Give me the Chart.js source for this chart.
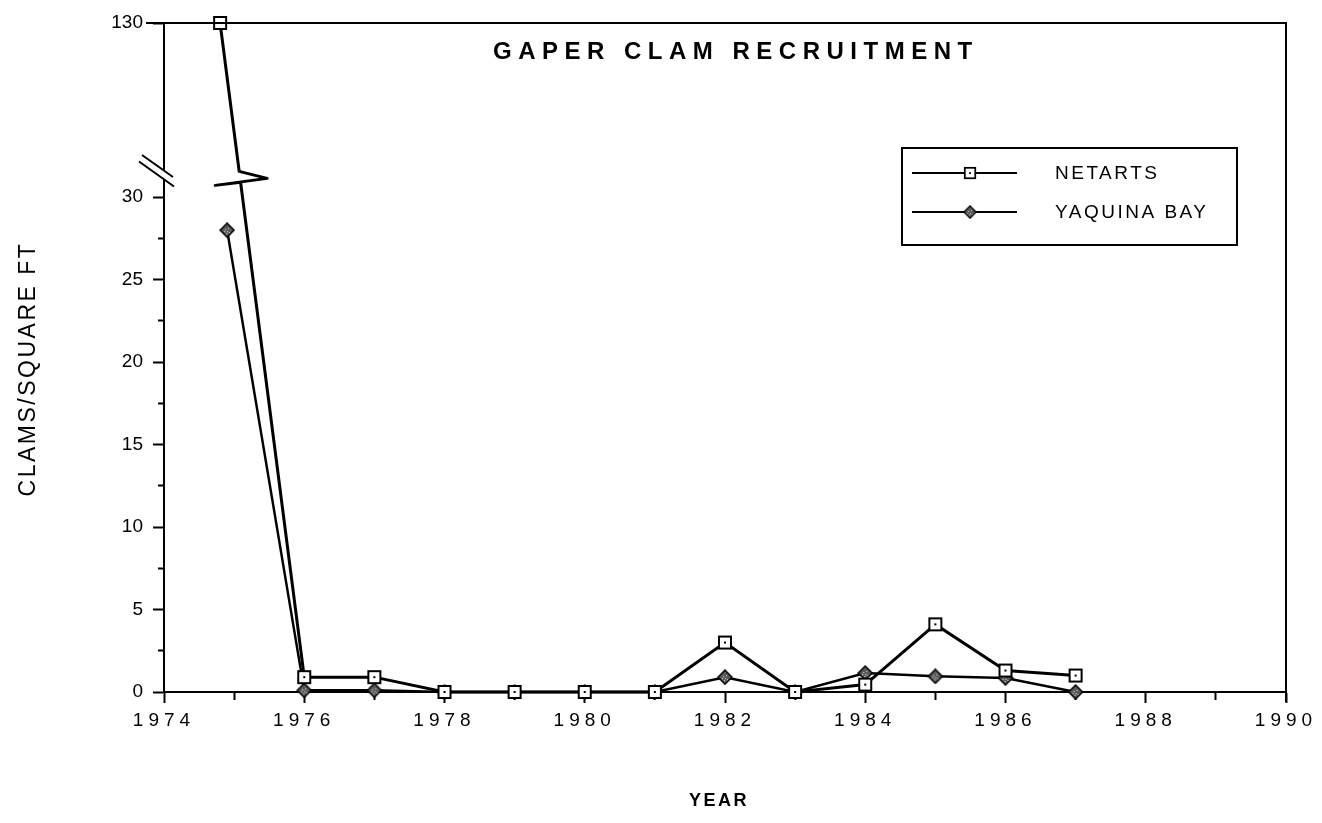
<!DOCTYPE html>
<html>
<head>
<meta charset="utf-8">
<title>Gaper Clam Recruitment</title>
<script src="https://cdn.jsdelivr.net/npm/chart.js@4.4.1/dist/chart.umd.min.js"></script>
<style>
  html, body { margin: 0; padding: 0; background: #fff; }
  #wrap { width: 1322px; height: 823px; }
</style>
</head>
<body>
<div id="wrap"><canvas id="chart" width="1322" height="823"></canvas></div>
<script>
// data
const netartsYears  = [1974.8, 1976, 1977, 1978, 1979, 1980, 1981, 1982, 1983, 1984, 1985, 1986, 1987];
const netartsValues = [130, 0.9, 0.9, 0, 0, 0, 0, 3.0, 0, 0.45, 4.1, 1.3, 1.0];
const yaquinaYears  = [1974.9, 1976, 1977, 1978, 1979, 1980, 1981, 1982, 1983, 1984, 1985, 1986, 1987];
const yaquinaValues = [28, 0.1, 0.1, 0, 0, 0, 0, 0.9, 0, 1.15, 0.95, 0.85, 0];

const xTickYears  = [1974, 1975, 1976, 1977, 1978, 1979, 1980, 1981, 1982, 1983, 1984, 1985, 1986, 1987, 1988, 1989, 1990];
const xTickLabels = ['1974', '', '1976', '', '1978', '', '1980', '', '1982', '', '1984', '', '1986', '', '1988', '', '1990'];
const yTickValues = [0, 2.5, 5, 7.5, 10, 12.5, 15, 17.5, 20, 22.5, 25, 27.5, 30, 130];
const yTickLabels = ['0', '', '5', '', '10', '', '15', '', '20', '', '25', '', '30', '130'];

// broken y axis: everything above BREAK_AT is squeezed so 130 sits at the top
const BREAK_AT = 31.5;
const TOP_LINEAR = 40.56;
const TOP_VALUE = 130;

class BrokenLinearScale extends Chart.LinearScale {
    getPixelForValue(value) {
        let v = value;
        if (v > BREAK_AT) {
            v = BREAK_AT + (v - BREAK_AT) * (TOP_LINEAR - BREAK_AT) / (TOP_VALUE - BREAK_AT);
        }
        return super.getPixelForValue(v);
    }
}
BrokenLinearScale.id = 'brokenLinear';
BrokenLinearScale.defaults = Chart.LinearScale.defaults;
Chart.register(BrokenLinearScale);

const FONT = '"Liberation Sans", Arial, sans-serif';

// marker images
function makeSquare(s) {
    const c = document.createElement('canvas');
    c.width = s; c.height = s;
    const g = c.getContext('2d');
    const m = 2;
    g.fillStyle = '#fff';
    g.fillRect(m, m, s - 2 * m, s - 2 * m);
    g.strokeStyle = '#000';
    g.lineWidth = 2;
    g.strokeRect(m, m, s - 2 * m, s - 2 * m);
    g.fillStyle = '#000';
    g.fillRect(s / 2 - 1, s / 2 - 1, 2, 2);
    return c;
}

function makeDiamond(s) {
    const c = document.createElement('canvas');
    c.width = s; c.height = s;
    const g = c.getContext('2d');
    const h = s / 2;
    g.beginPath();
    g.moveTo(h, 1); g.lineTo(s - 1, h); g.lineTo(h, s - 1); g.lineTo(1, h);
    g.closePath();
    g.fillStyle = '#5a5a5a';
    g.fill();
    g.strokeStyle = '#000';
    g.lineWidth = 1.5;
    g.stroke();
    // speckle so it reads like the hatched print marker
    g.fillStyle = '#ddd';
    [[h - 2, h - 1], [h + 1, h - 2], [h, h + 1], [h + 2, h + 2], [h - 3, h + 1], [h - 1, h + 3]].forEach(p => g.fillRect(p[0], p[1], 1, 1));
    return c;
}

const squareImg = makeSquare(16);
const diamondImg = makeDiamond(16);

const decor = {
    id: 'decor',
    afterDatasetsDraw(chart) {
        const ctx = chart.ctx;
        const area = chart.chartArea;
        const y = chart.scales.y;

        // frame: top and right side of the plot box
        ctx.save();
        ctx.strokeStyle = '#000';
        ctx.lineWidth = 2;
        ctx.beginPath();
        ctx.moveTo(area.left - 18, area.top);
        ctx.lineTo(area.right, area.top);
        ctx.lineTo(area.right, area.bottom + 10);
        ctx.stroke();

        // axis break marks on the y axis
        const ax = area.left;
        const yb1 = y.getPixelForValue(32.43);
        const yb2 = y.getPixelForValue(31.07);
        ctx.fillStyle = '#fff';
        ctx.beginPath();
        ctx.moveTo(ax - 6, yb1 - 4); ctx.lineTo(ax + 6, yb1 + 4);
        ctx.lineTo(ax + 6, yb2 + 4); ctx.lineTo(ax - 6, yb2 - 4);
        ctx.closePath();
        ctx.fill();
        ctx.lineWidth = 2;
        ctx.beginPath();
        ctx.moveTo(ax - 22, yb1 - 16); ctx.lineTo(ax + 9, yb1 + 6);
        ctx.moveTo(ax - 25, yb2 - 18); ctx.lineTo(ax + 10, yb2 + 7);
        ctx.stroke();

        // zigzag on the netarts line where it crosses the break
        const pts = chart.getDatasetMeta(0).data;
        const p0 = pts[0], p1 = pts[1];
        const xAt = yy => p0.x + (yy - p0.y) * (p1.x - p0.x) / (p1.y - p0.y);
        const ya = y.getPixelForValue(32.2);
        const yc = y.getPixelForValue(30.9);
        const xa = xAt(ya), xc = xAt(yc);
        ctx.strokeStyle = '#fff';
        ctx.lineWidth = 7;
        ctx.beginPath();
        ctx.moveTo(xa, ya + 1); ctx.lineTo(xc, yc - 1);
        ctx.stroke();
        ctx.strokeStyle = '#000';
        ctx.lineWidth = 3;
        ctx.lineJoin = 'round';
        ctx.beginPath();
        ctx.moveTo(xa, ya);
        ctx.lineTo(xa + 28, ya + 7);
        ctx.lineTo(xa - 24, ya + 14);
        ctx.lineTo(xc, yc);
        ctx.stroke();
        ctx.restore();

        // x tick labels are drawn right after this (z: 1), spaced out like the print
        ctx.letterSpacing = '5px';
    },
    afterDraw(chart) {
        const ctx = chart.ctx;
        ctx.letterSpacing = '0px';
        ctx.save();
        ctx.fillStyle = '#000';

        // title inside the plot
        ctx.font = 'bold 24px ' + FONT;
        ctx.letterSpacing = '6.5px';
        ctx.textAlign = 'left';
        ctx.textBaseline = 'middle';
        ctx.fillText('GAPER CLAM RECRUITMENT', 493, 52);

        // y axis title
        ctx.save();
        ctx.translate(29, 369);
        ctx.rotate(-Math.PI / 2);
        ctx.font = '23px ' + FONT;
        ctx.letterSpacing = '2.5px';
        ctx.textAlign = 'center';
        ctx.fillText('CLAMS/SQUARE FT', 0, 0);
        ctx.restore();

        // x axis title
        ctx.font = 'bold 18px ' + FONT;
        ctx.letterSpacing = '2.5px';
        ctx.textAlign = 'center';
        ctx.fillText('YEAR', 719, 801);

        // legend box
        const bx = 902, by = 148, bw = 335, bh = 97;
        ctx.strokeStyle = '#000';
        ctx.lineWidth = 2;
        ctx.strokeRect(bx, by, bw, bh);
        const rows = [173, 212];
        chart.data.datasets.forEach((ds, i) => {
            const ry = rows[i];
            ctx.lineWidth = 2;
            ctx.beginPath();
            ctx.moveTo(912, ry);
            ctx.lineTo(1017, ry);
            ctx.stroke();
            const img = ds.pointStyle;
            ctx.drawImage(img, 970 - 7, ry - 7, 14, 14);
            ctx.font = '19px ' + FONT;
            ctx.letterSpacing = '2.5px';
            ctx.textAlign = 'left';
            ctx.fillText(ds.label, 1055, ry + 1);
        });
        ctx.restore();
    }
};

const chart = new Chart(document.getElementById('chart'), {
    type: 'line',
    data: {
        datasets: [
            {
                label: 'NETARTS',
                data: netartsYears.map((x, i) => ({ x: x, y: netartsValues[i] })),
                borderColor: '#000',
                borderWidth: 3,
                pointStyle: squareImg,
                pointRadius: 7,
                tension: 0,
                clip: false
            },
            {
                label: 'YAQUINA BAY',
                data: yaquinaYears.map((x, i) => ({ x: x, y: yaquinaValues[i] })),
                borderColor: '#000',
                borderWidth: 2.5,
                pointStyle: diamondImg,
                pointRadius: 7,
                tension: 0,
                clip: false
            }
        ]
    },
    options: {
        responsive: false,
        animation: false,
        events: [],
        layout: { padding: { top: 23, right: 36, left: 0, bottom: 0 } },
        plugins: {
            legend: { display: false },
            tooltip: { enabled: false },
            title: { display: false }
        },
        scales: {
            x: {
                type: 'linear',
                min: 1974,
                max: 1990,
                afterBuildTicks: scale => { scale.ticks = xTickYears.map(v => ({ value: v })); },
                afterFit: scale => { scale.height = 131; },
                ticks: {
                    autoSkip: false,
                    maxRotation: 0,
                    padding: 6,
                    color: '#000',
                    font: { family: FONT, size: 19 },
                    z: 1,
                    callback: value => xTickLabels[xTickYears.indexOf(value)]
                },
                grid: {
                    drawOnChartArea: false,
                    drawTicks: true,
                    tickLength: 11,
                    tickWidth: 2,
                    tickColor: '#000',
                    tickBorderDash: c => (c.tick && c.tick.value % 2 !== 0) ? [7, 100] : []
                },
                border: { display: true, color: '#000', width: 2 }
            },
            y: {
                type: 'brokenLinear',
                min: 0,
                max: TOP_LINEAR,
                bounds: 'data',
                afterBuildTicks: scale => { scale.ticks = yTickValues.map(v => ({ value: v })); },
                afterFit: scale => { scale.width = 164; },
                ticks: {
                    padding: 10,
                    color: '#000',
                    font: { family: FONT, size: 19 },
                    callback: value => yTickLabels[yTickValues.indexOf(value)]
                },
                grid: {
                    drawOnChartArea: false,
                    drawTicks: true,
                    tickLength: 11,
                    tickWidth: 2,
                    tickColor: '#000',
                    tickBorderDash: c => (c.tick && c.tick.value % 5 !== 0 && c.tick.value !== 130) ? [0, 5, 6, 100] : []
                },
                border: { display: true, color: '#000', width: 2 }
            }
        }
    },
    plugins: [decor]
});
</script>
</body>
</html>
